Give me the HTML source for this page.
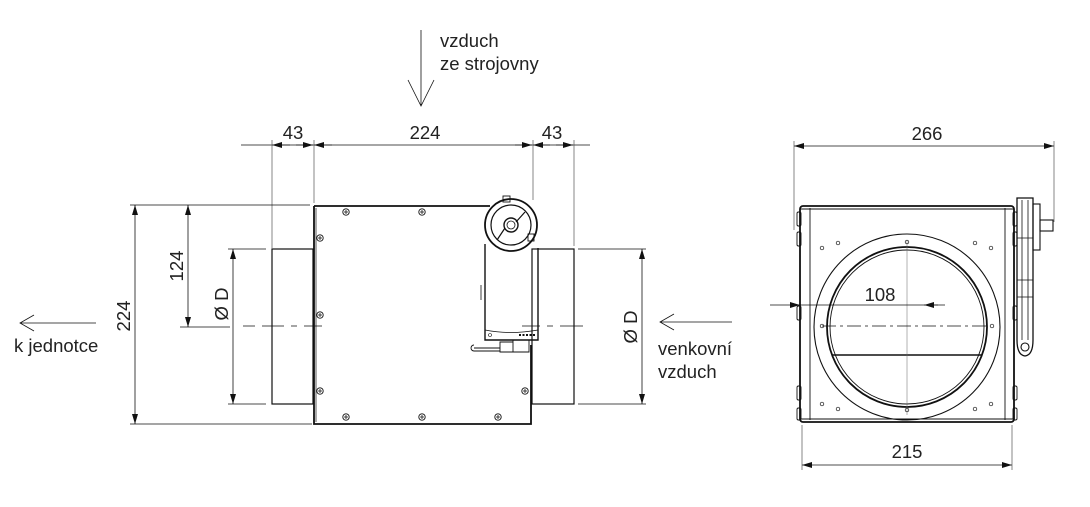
<!DOCTYPE html>
<html><head><meta charset="utf-8"><style>
html,body{margin:0;padding:0;background:#fff;width:1090px;height:507px;overflow:hidden}
svg text{font-family:"Liberation Sans",sans-serif;fill:#222}
</style></head><body>
<svg width="1090" height="507" viewBox="0 0 1090 507" xmlns="http://www.w3.org/2000/svg">
<defs>
<marker id="a" viewBox="0 0 10 6" refX="10" refY="3" markerWidth="10" markerHeight="6" orient="auto-start-reverse" markerUnits="userSpaceOnUse"><path d="M0,0L10,3L0,6z" fill="#111"/></marker>
</defs>
<g stroke="#111" fill="none" stroke-width="1">
<path d="M421,30V106M408,80L421,106L434,80" stroke-width="0.8"/>
<path d="M96,323H20M34,315L20,323L34,331" stroke-width="0.8"/>
<path d="M732,322H660M674,314L660,322L674,330" stroke-width="0.8"/>
<line x1="241" y1="145" x2="590" y2="145" stroke-width="0.8"/>
<line x1="272" y1="145" x2="290" y2="145" marker-start="url(#a)" stroke-width="0.8"/>
<line x1="296" y1="145" x2="313" y2="145" marker-end="url(#a)" stroke-width="0.8"/>
<line x1="314" y1="145" x2="332" y2="145" marker-start="url(#a)" stroke-width="0.8"/>
<line x1="515" y1="145" x2="532" y2="145" marker-end="url(#a)" stroke-width="0.8"/>
<line x1="533" y1="145" x2="550" y2="145" marker-start="url(#a)" stroke-width="0.8"/>
<line x1="556" y1="145" x2="573" y2="145" marker-end="url(#a)" stroke-width="0.8"/>
<path d="M272,140V248M314,140V203M533,140V200M574,140V246" stroke-width="0.7" stroke="#555"/>
<path d="M130,205H310M130,424H312M180,327H230M228,249H266M228,404H266" stroke-width="0.8"/>
<line x1="135" y1="205" x2="135" y2="424" marker-start="url(#a)" marker-end="url(#a)" stroke-width="0.8"/>
<line x1="188" y1="205" x2="188" y2="327" marker-start="url(#a)" marker-end="url(#a)" stroke-width="0.8"/>
<line x1="233" y1="249" x2="233" y2="404" marker-start="url(#a)" marker-end="url(#a)" stroke-width="0.8"/>
<path d="M578,249H646M578,404H646" stroke-width="0.8"/>
<line x1="642" y1="249" x2="642" y2="404" marker-start="url(#a)" marker-end="url(#a)" stroke-width="0.8"/>
<path d="M243,326H255M262,326H284M291,326H297M304,326H322M522,326H540M547,326H553M560,326H583" stroke-width="0.8"/>
<rect x="272" y="249" width="41" height="155" stroke-width="1.2"/>
<rect x="532" y="249" width="42" height="155" stroke-width="1.2"/>
<path d="M314,206H490M531,345V424H314V206" stroke-width="1.8"/>
<path d="M316,208V422" stroke-width="0.7"/>
<circle cx="511" cy="225" r="26" stroke-width="1.8"/>
<circle cx="511" cy="225" r="20" stroke-width="1.2"/>
<circle cx="511" cy="225" r="7" stroke-width="1.4"/>
<circle cx="511" cy="225" r="4" stroke-width="0.8"/>
<path d="M497,240L505,228M525,212L516,222" stroke-width="1.2"/>
<rect x="503" y="196" width="7" height="6" stroke-width="0.9"/>
<rect x="528" y="234" width="6" height="7" stroke-width="0.9"/>
<path d="M485,244V340H538V248" stroke-width="1.4"/>
<path d="M485,330Q510,335 538,330M481,285V300M538,285V300" stroke-width="0.8"/>
<circle cx="490" cy="335" r="1.5" stroke-width="0.6"/>
<path d="M519,335h16" stroke-width="2" stroke-dasharray="2,1.5"/>
<path d="M474,348H500M474,345a2,2 0 0 0 0,6H500M500,342h13v10h-13zM513,340h16v12h-16z" stroke-width="0.9"/>
<g stroke-width="0.9">
<circle cx="346" cy="212" r="3.2"/><circle cx="422" cy="212" r="3.2"/>
<circle cx="320" cy="238" r="3.2"/><circle cx="320" cy="315" r="3.2"/><circle cx="320" cy="391" r="3.2"/>
<circle cx="346" cy="417" r="3.2"/><circle cx="422" cy="417" r="3.2"/><circle cx="498" cy="417" r="3.2"/>
<circle cx="525" cy="391" r="3.2"/>
</g>
<g stroke-width="0.8">
<path d="M344,212h4M346,210v4M420,212h4M422,210v4M318,238h4M320,236v4M318,315h4M320,313v4M318,391h4M320,389v4M344,417h4M346,415v4M420,417h4M422,415v4M496,417h4M498,415v4M523,391h4M525,389v4"/>
</g>
<line x1="794" y1="146" x2="1054" y2="146" marker-start="url(#a)" marker-end="url(#a)" stroke-width="0.8"/>
<path d="M794,141V230M1054,141V222" stroke-width="0.7" stroke="#555"/>
<line x1="802" y1="465" x2="1012" y2="465" marker-start="url(#a)" marker-end="url(#a)" stroke-width="0.8"/>
<path d="M802,425V470M1012,425V470" stroke-width="0.7" stroke="#555"/>
<rect x="800" y="206" width="214" height="216" rx="3" stroke-width="1.8"/>
<path d="M810,208V420M1005,208V420M800,209H1014M800,419H1014" stroke-width="0.9"/>
<circle cx="907" cy="327" r="93" stroke-width="1.1"/>
<circle cx="907" cy="327" r="80" stroke-width="1.8"/>
<circle cx="907" cy="327" r="77" stroke-width="0.9"/>
<path d="M832,355H982" stroke-width="1.5"/>
<path d="M907,240V415" stroke-width="0.5" stroke="#666"/>
<path d="M822,326H990" stroke-width="0.8" stroke-dasharray="14,4,3,4"/>
<line x1="770" y1="305" x2="800" y2="305" marker-end="url(#a)" stroke-width="0.8"/>
<path d="M800,305H938" stroke-width="0.8"/>
<line x1="945" y1="305" x2="924" y2="305" marker-end="url(#a)" stroke-width="0.8"/>
<g stroke-width="0.7">
<circle cx="822" cy="248" r="1.8"/><circle cx="838" cy="243" r="1.8"/><circle cx="907" cy="242" r="1.8"/><circle cx="975" cy="243" r="1.8"/><circle cx="991" cy="248" r="1.8"/>
<circle cx="822" cy="404" r="1.8"/><circle cx="838" cy="409" r="1.8"/><circle cx="907" cy="410" r="1.8"/><circle cx="975" cy="409" r="1.8"/><circle cx="991" cy="404" r="1.8"/>
<circle cx="822" cy="326" r="1.8"/><circle cx="992" cy="326" r="1.8"/>
</g>
<g stroke-width="0.9">
<rect x="797" y="212" width="4" height="14" rx="1.5"/><rect x="797" y="232" width="4" height="14" rx="1.5"/><rect x="797" y="306" width="4" height="14" rx="1.5"/><rect x="797" y="386" width="4" height="14" rx="1.5"/><rect x="797" y="408" width="4" height="12" rx="1.5"/>
<rect x="1013" y="212" width="4" height="14" rx="1.5"/><rect x="1013" y="232" width="4" height="14" rx="1.5"/><rect x="1013" y="306" width="4" height="14" rx="1.5"/><rect x="1013" y="386" width="4" height="14" rx="1.5"/><rect x="1013" y="408" width="4" height="12" rx="1.5"/>
</g>
<path d="M1017,198H1033V340Q1033,355 1025,356Q1017,355 1017,340Z" stroke-width="1.3"/>
<path d="M1022,200V340M1028,200V340M1017,238H1033M1017,280H1033M1017,297H1033" stroke-width="0.8"/>
<circle cx="1025" cy="347" r="4" stroke-width="1.1"/>
<rect x="1033" y="204" width="7" height="46" stroke-width="1.1"/>
<rect x="1040" y="220" width="13" height="11" stroke-width="1.1"/>
</g>
<g font-size="18.5">
<text x="440" y="47">vzduch</text>
<text x="440" y="70">ze strojovny</text>
<text x="14" y="352">k jednotce</text>
<text x="658" y="355">venkovní</text>
<text x="658" y="378">vzduch</text>
</g>
<g font-size="18.5" text-anchor="middle">
<text x="293" y="139">43</text>
<text x="425" y="139">224</text>
<text x="552" y="139">43</text>
<text x="927" y="140">266</text>
<text x="907" y="458">215</text>
<text x="880" y="301">108</text>
<text transform="translate(130,316) rotate(-90)">224</text>
<text transform="translate(183,266) rotate(-90)">124</text>
<text transform="translate(228,304) rotate(-90)">Ø D</text>
<text transform="translate(637,327) rotate(-90)">Ø D</text>
</g>
</svg>
</body></html>
